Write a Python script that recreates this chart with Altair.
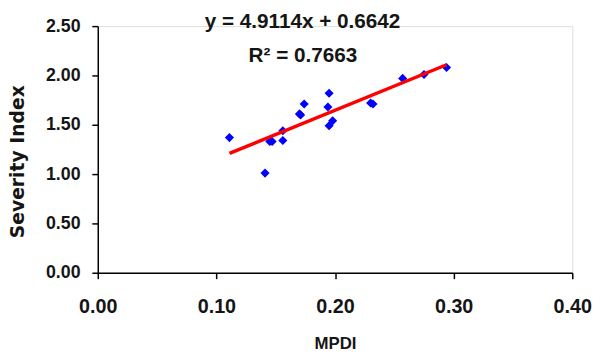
import altair as alt
import pandas as pd

# Data
mpdi = [0.111, 0.141, 0.145, 0.147, 0.156, 0.156, 0.170, 0.171, 0.174,
        0.195, 0.194, 0.198, 0.195, 0.230, 0.232, 0.257, 0.275, 0.294]
severity = [1.37, 1.01, 1.33, 1.33, 1.44, 1.34, 1.61, 1.60, 1.71,
            1.82, 1.68, 1.54, 1.49, 1.72, 1.71, 1.97, 2.01, 2.08]

slope = 4.9114
intercept = 0.6642

eq_lines = ["y = 4.9114x  + 0.6642", "R² = 0.7663"]
eq_x = [0.1726, 0.173]
eq_y = [2.54, 2.20]

x_ticks = [0.0, 0.1, 0.2, 0.3, 0.4]
y_ticks = [0.0, 0.5, 1.0, 1.5, 2.0, 2.5]

pts = pd.DataFrame({"MPDI": mpdi, "Severity Index": severity})
x0, x1 = min(mpdi), max(mpdi)
line_df = pd.DataFrame({"MPDI": [x0, x1],
                        "Severity Index": [slope * x0 + intercept, slope * x1 + intercept]})
txt = pd.DataFrame({"label": eq_lines, "x": eq_x, "y": eq_y})

FONT = "Liberation Sans"
INK = "#151515"

xscale = alt.Scale(domain=[0, 0.4], nice=False)
yscale = alt.Scale(domain=[0, 2.5], nice=False)

xaxis = alt.Axis(values=x_ticks, format=".2f", grid=False, title="MPDI",
                 labelFont=FONT, labelFontWeight="bold", labelFontSize=20,
                 labelColor=INK, labelFlush=False, labelOverlap=False,
                 titleFont=FONT, titleFontWeight="bold",
                 titleFontSize=17, titleColor=INK, tickColor="black",
                 domainColor="black", tickSize=6, labelPadding=18, titlePadding=20,
                 domainWidth=1.5, tickWidth=1.5)
yaxis = alt.Axis(values=y_ticks, format=".2f", grid=False, title="Severity Index",
                 labelFont=FONT, labelFontWeight="bold", labelFontSize=18,
                 labelColor=INK, labelFlush=False, labelOverlap=False,
                 titleFont="DejaVu Sans", titleFontWeight="bold",
                 titleFontSize=19, titleColor=INK, titleBaseline="middle",
                 titleX=-81.5, titleY=137, tickColor="black",
                 domainColor="black", tickSize=6, labelPadding=12,
                 domainWidth=1.5, tickWidth=1.5)

points = alt.Chart(pts).mark_point(shape="diamond", filled=True, color="#0000FF",
                                   size=85, opacity=1).encode(
    x=alt.X("MPDI:Q", scale=xscale, axis=xaxis),
    y=alt.Y("Severity Index:Q", scale=yscale, axis=yaxis),
)

trend = alt.Chart(line_df).mark_line(color="#FF0000", strokeWidth=3.5).encode(
    x=alt.X("MPDI:Q", scale=xscale),
    y=alt.Y("Severity Index:Q", scale=yscale),
)

eq = alt.Chart(txt).mark_text(font=FONT, fontWeight="bold", fontSize=21,
                              color=INK, align="center", clip=False).encode(
    x=alt.X("x:Q", scale=xscale),
    y=alt.Y("y:Q", scale=yscale),
    text="label:N",
)

chart = alt.layer(points, trend, eq).properties(
    width=481, height=250,
    autosize=alt.AutoSizeParams(type="none"),
    padding={"left": 91, "top": 16, "right": 21, "bottom": 80},
).configure_view(stroke=None).configure(background="white")

chart.save("out.html", embed_options={"renderer": "svg", "actions": False})
